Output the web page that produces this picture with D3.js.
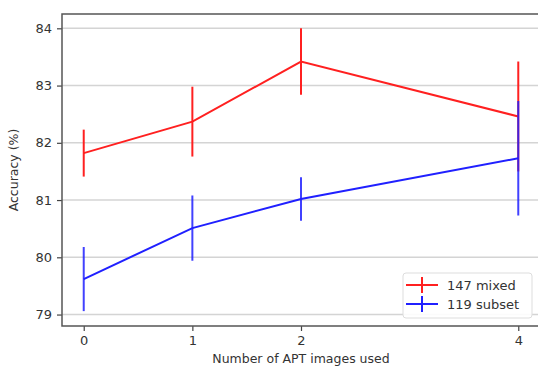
<!DOCTYPE html>
<html>
<head>
<meta charset="utf-8">
<script src="https://cdn.jsdelivr.net/npm/d3@7"></script>
<style>
  body { margin: 0; background: #fff; }
  text { font-family: "DejaVu Sans", sans-serif; fill: #333; }
</style>
</head>
<body>
<svg id="chart" width="538" height="370"></svg>
<script>
// images used (x values)
const xValues = [0, 1, 2, 4];
const yTicks = [79, 80, 81, 82, 83, 84];

// 147 mixed
const mixedMean = [81.82, 82.37, 83.42, 82.46];
const mixedErr = [0.41, 0.61, 0.58, 0.96];
// 119 subset
const subsetMean = [79.62, 80.51, 81.02, 81.73];
const subsetErr = [0.56, 0.57, 0.38, 1.0];

const seriesNames = ['147 mixed', '119 subset'];
const seriesColors = ['#ff2020', '#2020ff'];

const svg = d3.select('#chart');
const margin = {left: 62, top: 14, right: 0, bottom: 44};
const width = 538, height = 370;

const x = d3.scaleLinear().domain([-0.2, 4.2]).range([margin.left, 540]);
const y = d3.scaleLinear().domain([78.8, 84.25]).range([height - margin.bottom, margin.top]);

// grid lines
svg.append('g')
  .selectAll('line')
  .data(yTicks)
  .join('line')
  .attr('x1', margin.left).attr('x2', width)
  .attr('y1', d => y(d)).attr('y2', d => y(d))
  .attr('stroke', '#d4d4d4')
  .attr('stroke-width', 1.5);

// axes
const xAxis = svg.append('g')
  .attr('transform', 'translate(0,' + (height - margin.bottom) + ')')
  .call(d3.axisBottom(x).tickValues(xValues).tickFormat(d3.format('d')).tickSize(5).tickPadding(5));
const yAxis = svg.append('g')
  .attr('transform', 'translate(' + margin.left + ',0)')
  .call(d3.axisLeft(y).tickValues(yTicks).tickFormat(d3.format('d')).tickSize(5).tickPadding(5));

[xAxis, yAxis].forEach(a => {
  a.select('.domain').remove();
  a.selectAll('.tick line').attr('stroke', '#444').attr('stroke-width', 1.2);
  a.selectAll('.tick text').style('font-size', '13px').style('fill', '#333');
});

// spines
svg.append('rect')
  .attr('x', margin.left).attr('y', margin.top)
  .attr('width', 540 - margin.left).attr('height', height - margin.bottom - margin.top)
  .attr('fill', 'none')
  .attr('stroke', '#555')
  .attr('stroke-width', 1.5);

// series
const series = [
  {mean: mixedMean, err: mixedErr},
  {mean: subsetMean, err: subsetErr}
];

const line = d3.line().x(d => x(d.x)).y(d => y(d.y));

series.forEach((s, i) => {
  const pts = xValues.map((xv, j) => ({x: xv, y: s.mean[j], e: s.err[j]}));
  const g = svg.append('g');
  g.append('path')
    .datum(pts)
    .attr('d', line)
    .attr('fill', 'none')
    .attr('stroke', seriesColors[i])
    .attr('stroke-width', 2);
  g.selectAll('line.err')
    .data(pts)
    .join('line')
    .attr('class', 'err')
    .attr('x1', d => x(d.x)).attr('x2', d => x(d.x))
    .attr('y1', d => y(d.y - d.e)).attr('y2', d => y(d.y + d.e))
    .attr('stroke', seriesColors[i])
    .attr('stroke-width', 2)
    .attr('opacity', i === 1 ? 0.85 : 1);
});

// axis labels
svg.append('text')
  .attr('x', x(2)).attr('y', 363)
  .attr('text-anchor', 'middle')
  .style('font-size', '12.5px')
  .text('Number of APT images used');

svg.append('text')
  .attr('transform', 'translate(18,' + ((margin.top + height - margin.bottom) / 2) + ') rotate(-90)')
  .attr('text-anchor', 'middle')
  .style('font-size', '12.5px')
  .text('Accuracy (%)');

// legend
const legend = svg.append('g').attr('transform', 'translate(403,273)');
legend.append('rect')
  .attr('width', 129).attr('height', 45)
  .attr('rx', 3)
  .attr('fill', '#fff')
  .attr('fill-opacity', 0.9)
  .attr('stroke', '#ddd');

seriesNames.forEach((name, i) => {
  const ly = 12 + i * 19;
  legend.append('line')
    .attr('x1', 3).attr('x2', 35).attr('y1', ly).attr('y2', ly)
    .attr('stroke', seriesColors[i]).attr('stroke-width', 2);
  legend.append('line')
    .attr('x1', 19).attr('x2', 19).attr('y1', ly - 8).attr('y2', ly + 8)
    .attr('stroke', seriesColors[i]).attr('stroke-width', 2);
  legend.append('text')
    .attr('x', 44).attr('y', ly + 4.5)
    .style('font-size', '13px')
    .text(name);
});
</script>
</body>
</html>
